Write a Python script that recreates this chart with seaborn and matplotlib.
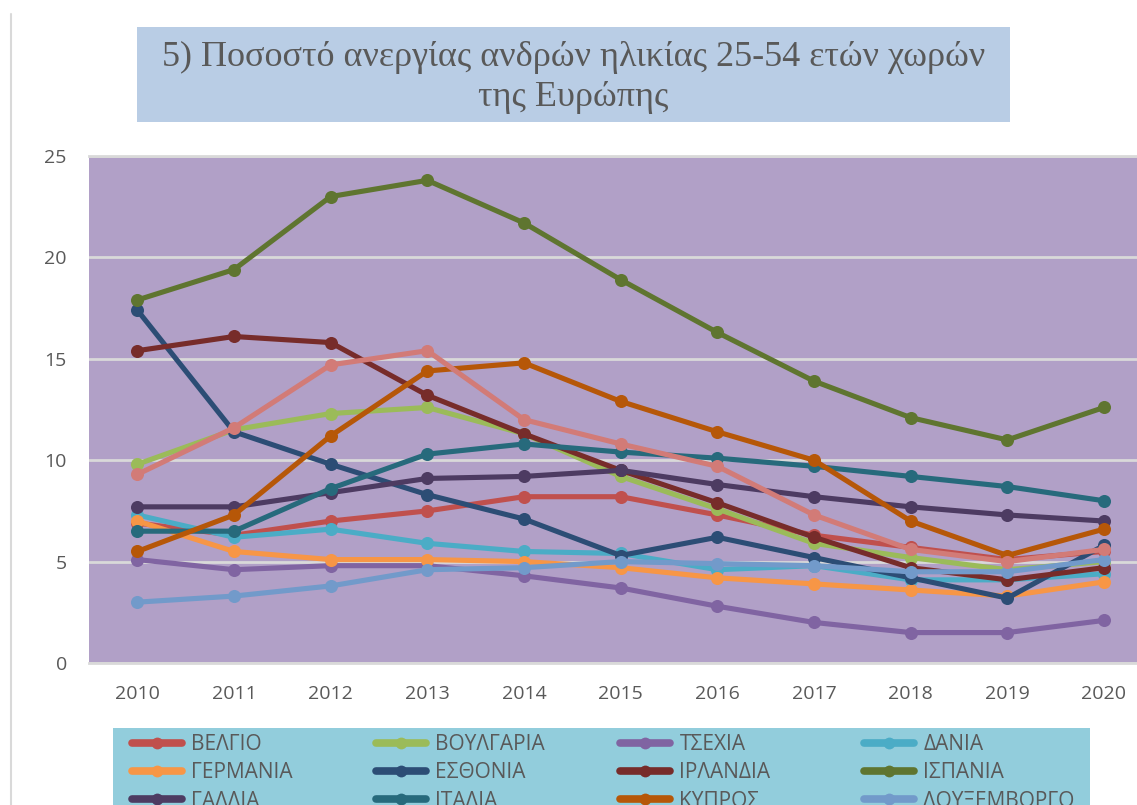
import matplotlib
matplotlib.use("Agg")
import matplotlib.pyplot as plt
from matplotlib import font_manager
from matplotlib.lines import Line2D
from matplotlib.patches import Rectangle
import seaborn as sns
import pandas as pd

years = [2010, 2011, 2012, 2013, 2014, 2015, 2016, 2017, 2018, 2019, 2020]

belgio      = [6.9, 6.3, 7.0, 7.5, 8.2, 8.2, 7.3, 6.3, 5.7, 5.1, 5.5]
voulgaria   = [9.8, 11.5, 12.3, 12.6, 11.3, 9.2, 7.6, 5.9, 5.2, 4.6, 5.0]
tsexia      = [5.1, 4.6, 4.8, 4.8, 4.3, 3.7, 2.8, 2.0, 1.5, 1.5, 2.1]
dania       = [7.3, 6.2, 6.6, 5.9, 5.5, 5.4, 4.6, 4.8, 4.1, 4.1, 4.4]
germania    = [7.0, 5.5, 5.1, 5.1, 5.0, 4.7, 4.2, 3.9, 3.6, 3.3, 4.0]
esthonia    = [17.4, 11.4, 9.8, 8.3, 7.1, 5.3, 6.2, 5.2, 4.2, 3.2, 5.8]
irlandia    = [15.4, 16.1, 15.8, 13.2, 11.3, 9.5, 7.9, 6.2, 4.7, 4.1, 4.7]
ispania     = [17.9, 19.4, 23.0, 23.8, 21.7, 18.9, 16.3, 13.9, 12.1, 11.0, 12.6]
gallia      = [7.7, 7.7, 8.4, 9.1, 9.2, 9.5, 8.8, 8.2, 7.7, 7.3, 7.0]
italia      = [6.5, 6.5, 8.6, 10.3, 10.8, 10.4, 10.1, 9.7, 9.2, 8.7, 8.0]
kypros      = [5.5, 7.3, 11.2, 14.4, 14.8, 12.9, 11.4, 10.0, 7.0, 5.3, 6.6]
louxemvorgo = [3.0, 3.3, 3.8, 4.6, 4.7, 5.0, 4.9, 4.8, 4.5, 4.5, 5.1]
portogalia  = [9.3, 11.6, 14.7, 15.4, 12.0, 10.8, 9.7, 7.3, 5.6, 5.0, 5.6]

countries = ["ΒΕΛΓΙΟ", "ΒΟΥΛΓΑΡΙΑ", "ΤΣΕΧΙΑ", "ΔΑΝΙΑ", "ΓΕΡΜΑΝΙΑ", "ΕΣΘΟΝΙΑ",
             "ΙΡΛΑΝΔΙΑ", "ΙΣΠΑΝΙΑ", "ΓΑΛΛΙΑ", "ΙΤΑΛΙΑ", "ΚΥΠΡΟΣ", "ΛΟΥΞΕΜΒΟΡΓΟ",
             "ΠΟΡΤΟΓΑΛΙΑ"]
series = [belgio, voulgaria, tsexia, dania, germania, esthonia, irlandia, ispania,
          gallia, italia, kypros, louxemvorgo, portogalia]
colors = ["#C0504D", "#9BBB59", "#8064A2", "#4BACC6", "#F79646", "#2C4D75",
          "#772C2A", "#5F7530", "#4D3B62", "#276A7C", "#B65708", "#729ACA",
          "#D27B77"]

title_line1 = "5) Ποσοστό ανεργίας ανδρών ηλικίας 25-54 ετών χωρών"
title_line2 = "της Ευρώπης"

rows = []
for name, vals in zip(countries, series):
    for y, v in zip(years, vals):
        rows.append({"year": y, "value": v, "country": name})
df = pd.DataFrame(rows)
palette = dict(zip(countries, colors))

sns.set_theme(style="white")
installed = {f.name for f in font_manager.fontManager.ttflist}
narrow = "Liberation Sans Narrow" if "Liberation Sans Narrow" in installed else "Open Sans"
plt.rcParams["font.family"] = ["Open Sans", "DejaVu Sans"]

W, H = 1137, 805
fig = plt.figure(figsize=(W / 100, H / 100), dpi=100)
fig.patch.set_facecolor("white")

# axes: 2009.5 -> 89px, 2020.5 -> 1152px ; y 0 -> 663px, 25 -> 156px
ax = fig.add_axes([89 / W, (H - 663) / H, (1152.3 - 89) / W, (663 - 156) / H])
ax.set_facecolor("#B1A0C7")

sns.lineplot(data=df, x="year", y="value", hue="country", hue_order=countries,
             palette=palette, marker="o", markersize=9.4, markeredgewidth=0,
             linewidth=3.7, legend=False, ax=ax, zorder=3)

ax.set_xlim(2009.5, 2020.5)
ax.set_ylim(0, 25)
ax.set_xticks(years)
ax.set_xticklabels([str(y) for y in years])
ax.set_yticks([0, 5, 10, 15, 20, 25])
ax.set_yticklabels(["0", "5", "10", "15", "20", "25"])
ax.set_xlabel("")
ax.set_ylabel("")
ax.tick_params(axis="both", length=0, labelsize=14, labelcolor="#595959")
ax.tick_params(axis="y", pad=16)
ax.tick_params(axis="x", pad=16)
ax.grid(axis="y", color="#D9D9D9", linewidth=2, zorder=1)
ax.grid(axis="x", visible=False)
ax.set_axisbelow(True)
for s in ["left", "right"]:
    ax.spines[s].set_visible(False)
for s in ["top", "bottom"]:
    ax.spines[s].set_color("#D9D9D9")
    ax.spines[s].set_linewidth(2)

# left border of the chart area
fig.add_artist(Line2D([11 / W, 11 / W], [0, 1 - 14 / H], transform=fig.transFigure,
                      color="#D9D9D9", linewidth=1.5))

# title box
fig.add_artist(Rectangle((137 / W, 1 - 122 / H), (1010 - 137) / W, (122 - 27) / H,
                         transform=fig.transFigure, facecolor="#B9CDE5",
                         edgecolor="none"))
cx = (137 + 1010) / 2 / W
fig.text(cx, 1 - 57 / H, title_line1, ha="center", va="center", fontsize=26,
         color="#595959", family=["Liberation Serif", "DejaVu Serif"])
fig.text(cx, 1 - 98 / H, title_line2, ha="center", va="center", fontsize=26,
         color="#595959", family=["Liberation Serif", "DejaVu Serif"])

# legend background
fig.add_artist(Rectangle((113 / W, 0), (1090 - 113) / W, 1 - 728 / H,
                         transform=fig.transFigure, facecolor="#92CDDC",
                         edgecolor="none"))

# legend: one column at a time, row-major reading order
handles = [Line2D([0], [0], color=c, linewidth=5.5, marker="o", markersize=8.5,
                  markeredgewidth=0) for c in colors]
col_x = [132, 376, 620, 864]
ncol = 4
for j in range(ncol):
    idx = list(range(j, len(countries), ncol))
    leg = fig.legend([handles[i] for i in idx], [countries[i] for i in idx],
                     loc="upper left", bbox_to_anchor=(col_x[j] / W, 1 - 734 / H),
                     borderaxespad=0, borderpad=0, frameon=False,
                     handlelength=2.4, handletextpad=0.45, labelspacing=0.35,
                     prop={"family": [narrow, "DejaVu Sans"], "size": 15})
    for t in leg.get_texts():
        t.set_color("#595959")

fig.savefig("out.png", dpi=100)
